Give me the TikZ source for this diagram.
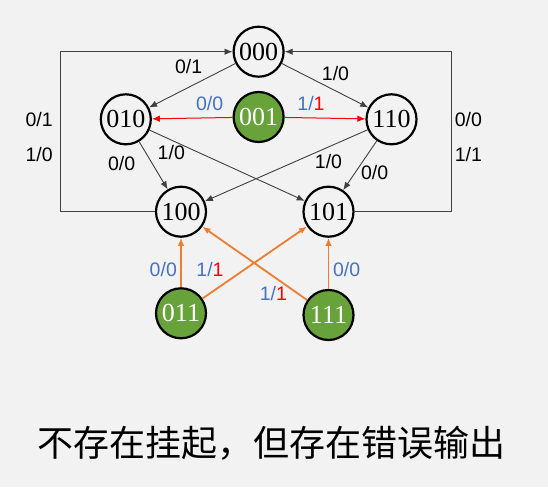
\documentclass[tikz,border=0pt]{standalone}
\usepackage{fontspec}
\setmainfont{Liberation Serif}
\newfontfamily\labfont{Liberation Sans}
\newfontfamily\cjk{Noto Sans CJK SC}
\usetikzlibrary{arrows.meta}
\definecolor{bg}{HTML}{F2F2F2}
\definecolor{nodegreen}{HTML}{68A23B}
\definecolor{edgegray}{HTML}{404040}
\definecolor{lblue}{HTML}{4472C4}
\definecolor{lred}{HTML}{FF0000}
\definecolor{lorange}{HTML}{ED7D31}
\tikzset{
  state/.style={circle, draw=black, line width=2.2pt, minimum size=50pt, inner sep=0pt,
    font=\fontsize{26}{26}\selectfont},
  gstate/.style={state, fill=nodegreen, text=white},
  gedge/.style={draw=edgegray, line width=0.9pt, -{Latex[length=8pt,width=6.5pt]}},
  redge/.style={draw=lred, line width=1pt, -{Latex[length=8pt,width=6.5pt]}},
  oedge/.style={draw=lorange, line width=1.8pt, -{Latex[length=8pt,width=6.5pt]}},
  lbl/.style={font=\labfont\fontsize{19.5}{19.5}\selectfont, inner sep=0pt},
}
\begin{document}
\begin{tikzpicture}[x=1pt,y=-1pt]
\fill[bg] (0,0) rectangle (548,487);
\useasboundingbox (0,0) rectangle (548,487);
% states
\node[state]  (n000) at (258.6,51.7) {000};
\node[state]  (n010) at (125.8,119.3) {010};
\node[gstate] (n001) at (258.6,117) {001};
\node[state]  (n110) at (391.5,119.3) {110};
\node[state]  (n100) at (181,211.7) {100};
\node[state]  (n101) at (328.5,211.7) {101};
\node[gstate] (n011) at (181,313.3) {011};
\node[gstate] (n111) at (328.5,315) {111};
% loop corners
\coordinate (lb) at (60,211.7);
\coordinate (lt) at (60,51.7);
\coordinate (rb) at (451.6,211.7);
\coordinate (rt) at (451.6,51.7);
% gray edges
\draw[gedge] (n000) -- (n010);
\draw[gedge] (n000) -- (n110);
\draw[gedge] (n010) -- (n100);
\draw[gedge] (n010) -- (n101);
\draw[gedge] (n110) -- (n100);
\draw[gedge] (n110) -- (n101);
\draw[gedge] (n100.west) -- (lb) -- (lt) -- (n000.west);
\draw[gedge] (n101.east) -- (rb) -- (rt) -- (n000.east);
% red edges
\draw[redge] (n001) -- (n010);
\draw[redge] (n001) -- (n110);
% orange edges
\draw[oedge] (n011) -- (n100);
\draw[oedge] (n011) -- (n101);
\draw[oedge] (n111) -- (n100);
\draw[oedge] (n111) -- (n101);
% labels
\node[lbl] (l1) at (188.7,66.7) {0/1};
\node[lbl] (l2) at (335.5,74) {1/0};
\node[lbl] (l3) at (209.7,104) {\textcolor{lblue}{0/0}};
\node[lbl] (l4) at (311,104) {\textcolor{lblue}{1/}\textcolor{lred}{1}};
\node[lbl] (l5) at (39.1,120) {0/1};
\node[lbl] (l6) at (39.1,155) {1/0};
\node[lbl] (l7) at (468.4,119.3) {0/0};
\node[lbl] (l8) at (468.4,155) {1/1};
\node[lbl] (l9) at (171.3,152.3) {1/0};
\node[lbl] (l10) at (121.6,164) {0/0};
\node[lbl] (l11) at (328.5,161.7) {1/0};
\node[lbl] (l12) at (374.7,172.7) {0/0};
\node[lbl] (l13) at (163.3,269.3) {\textcolor{lblue}{0/0}};
\node[lbl] (l14) at (210,269.3) {\textcolor{lblue}{1/}\textcolor{lred}{1}};
\node[lbl] (l15) at (273.3,293.3) {\textcolor{lblue}{1/}\textcolor{lred}{1}};
\node[lbl] (l16) at (346.7,269.3) {\textcolor{lblue}{0/0}};
% caption
\node[font=\cjk\fontsize{36}{36}\selectfont, inner sep=0pt] (cap) at (271,443) {不存在挂起，但存在错误输出};
\end{tikzpicture}
\end{document}
